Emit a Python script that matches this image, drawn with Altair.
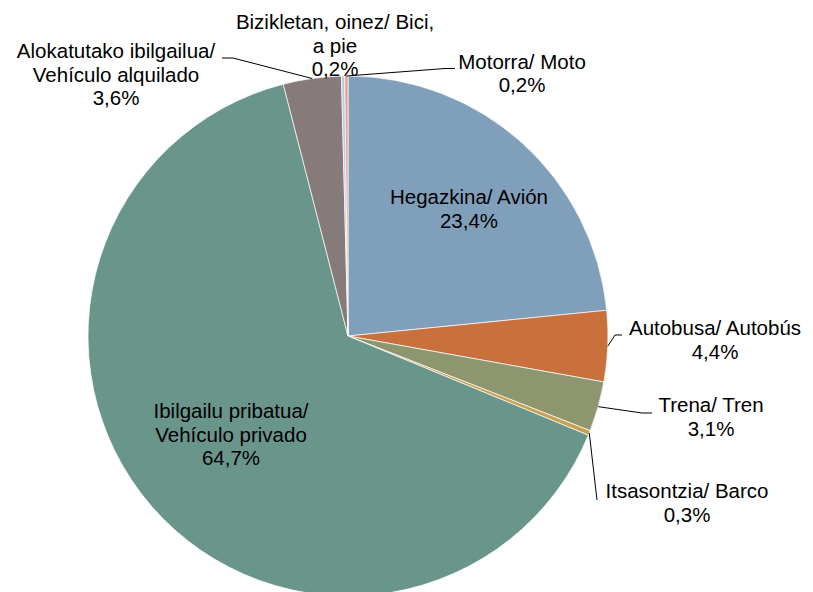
import math
import altair as alt
import pandas as pd

# ---------------- data ----------------
categories = [
    "Hegazkina/ Avión",
    "Autobusa/ Autobús",
    "Trena/ Tren",
    "Itsasontzia/ Barco",
    "Ibilgailu pribatua/ Vehículo privado",
    "Alokatutako ibilgailua/ Vehículo alquilado",
    "Bizikletan, oinez/ Bici, a pie",
    "Motorra/ Moto",
]
values = [23.4, 4.4, 3.1, 0.3, 64.7, 3.6, 0.2, 0.2]
label_lines = [
    ["Hegazkina/ Avión"],
    ["Autobusa/ Autobús"],
    ["Trena/ Tren"],
    ["Itsasontzia/ Barco"],
    ["Ibilgailu pribatua/", "Vehículo privado"],
    ["Alokatutako ibilgailua/", "Vehículo alquilado"],
    ["Bizikletan, oinez/ Bici,", "a pie"],
    ["Motorra/ Moto"],
]
colors = ["#809FBB", "#C8713C", "#8E9670", "#C9A050",
          "#6A958A", "#877A7A", "#B4CCE0", "#E8A088"]

# ---------------- layout (annotation placement) ----------------
W, H = 797, 584
CX, CY, R = 340, 328, 260
# centre of the first text line of each label
label_center = [
    (461, 190), (707, 321), (703, 398), (679, 484),
    (223, 404), (108, 44), (327, 15), (514, 54.5),
]
leader_elbows = {
    1: [(607, 327), (614, 327)],
    2: [(634, 405), (644, 405)],
    3: [(589, 492)],
    5: [(225, 50), (214, 50)],
    7: [(437, 60.5), (447, 60.5)],
}

def pct(v):
    return f"{v:.1f}".replace(".", ",") + "%"

df = pd.DataFrame({"cat": categories, "value": values, "idx": range(len(values))})

total = sum(values)
cum = 0.0
lab_rows, line_rows = [], []
for i, (c, v) in enumerate(zip(categories, values)):
    mid = (cum + v / 2) / total
    cum += v
    ang = 2 * math.pi * mid
    ex, ey = CX + R * math.sin(ang), CY - R * math.cos(ang)
    lx, ly = label_center[i]
    lab_rows.append({"cat": c, "lx": lx, "ly": ly,
                     "label": "\n".join(label_lines[i] + [pct(v)])})
    if i in leader_elbows:
        pts = [(ex, ey)] + leader_elbows[i]
        for k, (px, py) in enumerate(pts):
            line_rows.append({"cat": c, "ord": k, "px": px, "py": py})

labels = pd.DataFrame(lab_rows)
lines = pd.DataFrame(line_rows)

pie = alt.Chart(df).mark_arc(outerRadius=R, stroke="white", strokeWidth=0.7).encode(
    theta=alt.Theta("value:Q", stack=True),
    color=alt.Color("cat:N", scale=alt.Scale(domain=categories, range=colors), legend=None),
    order=alt.Order("idx:Q", sort="ascending"),
    x=alt.value(CX),
    y=alt.value(CY),
)

leaders = alt.Chart(lines).mark_line(color="black", strokeWidth=1).encode(
    x=alt.X("px:Q", scale=None, axis=None),
    y=alt.Y("py:Q", scale=None, axis=None),
    detail="cat:N",
    order="ord:Q",
)

text = alt.Chart(labels).mark_text(
    font="Liberation Sans", fontSize=20.5, lineHeight=23.5, align="center",
    baseline="middle", lineBreak="\n", color="black",
).encode(
    x=alt.X("lx:Q", scale=None, axis=None),
    y=alt.Y("ly:Q", scale=None, axis=None),
    text="label:N",
)

chart = alt.layer(pie, leaders, text).properties(
    width=W, height=H, autosize=alt.AutoSizeParams(type="none"), padding=0,
).configure_view(stroke=None)

chart.save("out.html", embed_options={"renderer": "svg", "actions": False})
